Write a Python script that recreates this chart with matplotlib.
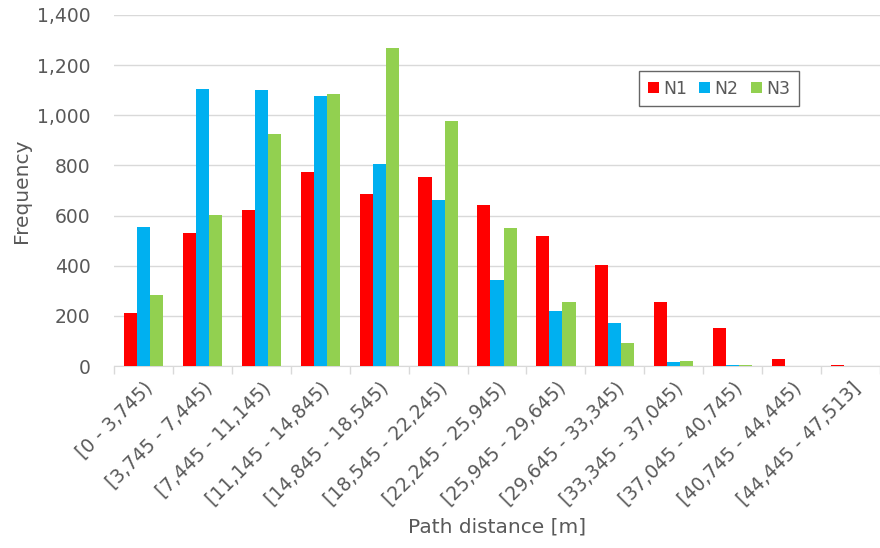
import matplotlib
matplotlib.use("Agg")
import matplotlib.pyplot as plt
import numpy as np
from matplotlib.ticker import FuncFormatter, FixedLocator

categories = ["[0 - 3,745)", "[3,745 - 7,445)", "[7,445 - 11,145)", "[11,145 - 14,845)",
              "[14,845 - 18,545)", "[18,545 - 22,245)", "[22,245 - 25,945)", "[25,945 - 29,645)",
              "[29,645 - 33,345)", "[33,345 - 37,045)", "[37,045 - 40,745)", "[40,745 - 44,445)",
              "[44,445 - 47,513]"]
n1 = [212, 532, 622, 774, 688, 752, 644, 520, 403, 256, 153, 28, 4]
n2 = [556, 1106, 1102, 1078, 806, 664, 344, 218, 170, 17, 3, 0, 0]
n3 = [284, 604, 926, 1086, 1268, 978, 550, 254, 93, 18, 3, 0, 0]
series = [("N1", n1, "#ff0000"), ("N2", n2, "#00b0f0"), ("N3", n3, "#92d050")]

plt.rcParams['font.family'] = ['DejaVu Sans']
txt = "#595959"

fig = plt.figure(figsize=(8.8, 5.48), dpi=100)
ax = fig.add_axes([114/880, 1-366/548, (880-114)/880, (366-15)/548])

x = np.arange(len(categories))
w = 0.222
for i, (name, vals, col) in enumerate(series):
    ax.bar(x + (i-1)*w, vals, width=w, color=col, label=name, zorder=3)

ax.set_xlim(-0.5, len(categories)-0.5)
ax.set_ylim(0, 1400)
ax.set_yticks(np.arange(0, 1401, 200))
ax.yaxis.set_major_formatter(FuncFormatter(lambda v, p: f"{int(v):,}"))
ax.grid(axis='y', color='#d9d9d9', linewidth=1, zorder=0)
ax.set_axisbelow(True)

ax.set_xticks(x)
ax.set_xticklabels(categories, rotation=45, ha='right', rotation_mode='anchor', fontsize=13.6, color=txt)
ax.tick_params(axis='x', length=0, pad=9)
ax.xaxis.set_minor_locator(FixedLocator(np.arange(-0.5, len(categories), 1)))
ax.tick_params(axis='x', which='minor', length=6, color='#d9d9d9', width=1)
ax.tick_params(axis='y', length=0, labelsize=13.5, labelcolor=txt, pad=17)

for s in ['top', 'right', 'left']:
    ax.spines[s].set_visible(False)
ax.spines['bottom'].set_color('#d9d9d9')

ax.set_ylabel("Frequency", fontsize=14.5, color=txt, labelpad=4)
ax.set_xlabel("Path distance [m]", fontsize=14.5, color=txt, labelpad=6)

leg = ax.legend(loc='upper left', bbox_to_anchor=((639-114)/766, (366-71)/351), ncol=3,
                frameon=True, fancybox=False, fontsize=12.4, handlelength=0.65, handleheight=0.65,
                handletextpad=0.25, columnspacing=0.7, borderpad=0.5, borderaxespad=0,
                labelcolor=txt)
leg.get_frame().set_edgecolor('#404040')
leg.get_frame().set_linewidth(1)

fig.savefig("out.png", dpi=100)
